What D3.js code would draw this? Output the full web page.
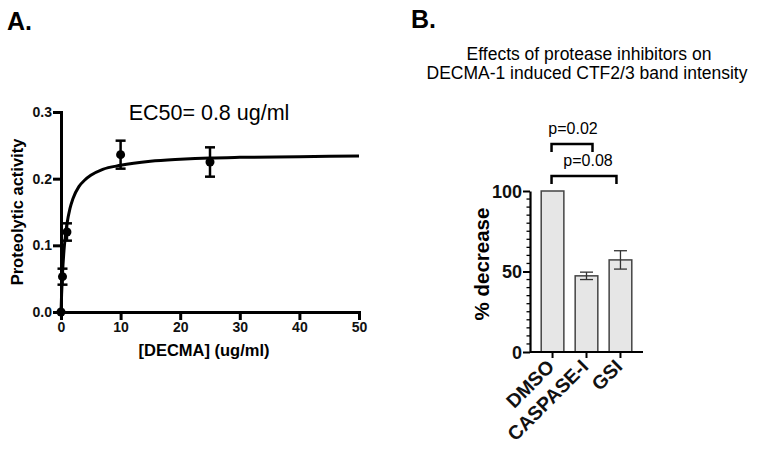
<!DOCTYPE html>
<html><head><meta charset="utf-8">
<script src="https://cdn.jsdelivr.net/npm/d3@7"></script>
<style>body{margin:0;background:#fff}svg{display:block;font-family:"Liberation Sans",Arial,sans-serif}</style>
</head><body>
<svg id="c" width="761" height="449"></svg>
<script>
// Panel A data
const doseX = [0, 0.25, 1, 10, 25];
const activity = [0, 0.053, 0.12, 0.236, 0.225];
const activityErr = [0, 0.012, 0.013, 0.021, 0.022];
const fitX = [0, 0.1, 0.25, 0.5, 0.75, 1, 1.5, 2, 3, 4, 5, 7, 10, 15, 20, 25, 30, 40, 50];
const fitY = [0, 0.026, 0.057, 0.092, 0.115, 0.132, 0.155, 0.170, 0.188, 0.198, 0.205, 0.214, 0.220, 0.226, 0.229, 0.231, 0.232, 0.233, 0.234];
const xTicksA = [0, 10, 20, 30, 40, 50];
const yTicksA = [0, 0.1, 0.2, 0.3];
// Panel B data
const groups = ["DMSO", "CASPASE-I", "GSI"];
const decrease = [100, 47.3, 57.2];
const decreaseErr = [0, 2.3, 5.7];
const yTicksB = [0, 50, 100];
const pLabels = ["p=0.02", "p=0.08"];

const svg = d3.select("#c");
const F = '"Liberation Sans",Arial,sans-serif';

// ---------- Panel A ----------
svg.append("text").attr("x", 7).attr("y", 30).attr("font-size", 25).attr("font-weight", "bold").text("A.");
const xA = d3.scaleLinear().domain([0, 50]).range([61, 359]);
const yA = d3.scaleLinear().domain([0, 0.3]).range([312, 112]);
const gA = svg.append("g");
const axA = gA.append("g").attr("transform", "translate(0,312)")
  .call(d3.axisBottom(xA).tickValues(xTicksA).tickSize(8).tickPadding(2).tickFormat(d3.format("d")));
const ayA = gA.append("g").attr("transform", "translate(61,0)")
  .call(d3.axisLeft(yA).tickValues(yTicksA).tickSize(8).tickPadding(1).tickFormat(d3.format(".1f")));
[axA, ayA].forEach(a => {
  a.attr("font-size", null);
  a.select(".domain").attr("stroke-width", 3).attr("stroke", "#000");
  a.selectAll(".tick line").attr("stroke-width", 3).attr("stroke", "#000");
  a.selectAll("text").attr("font-family", F).style("font-size", "14px").attr("font-weight", "bold").attr("fill", "#111");
});
// fitted curve
gA.append("path").datum(fitX.map((x, i) => [x, fitY[i]]))
  .attr("fill", "none").attr("stroke", "#000").attr("stroke-width", 3)
  .attr("d", d3.line().x(d => xA(d[0])).y(d => yA(d[1])).curve(d3.curveMonotoneX));
// error bars & points
doseX.forEach((x, i) => {
  const e = activityErr[i];
  if (e > 0) {
    const cx = xA(x);
    gA.append("line").attr("x1", cx).attr("x2", cx).attr("y1", yA(activity[i] + e)).attr("y2", yA(activity[i] - e)).attr("stroke", "#000").attr("stroke-width", 2.5);
    [activity[i] + e, activity[i] - e].forEach(v =>
      gA.append("line").attr("x1", cx - 5).attr("x2", cx + 5).attr("y1", yA(v)).attr("y2", yA(v)).attr("stroke", "#000").attr("stroke-width", 2.5));
  }
  gA.append("circle").attr("cx", xA(x)).attr("cy", yA(activity[i])).attr("r", 4.5).attr("fill", "#000");
});
gA.append("text").attr("x", 209).attr("y", 120).attr("text-anchor", "middle").style("font-size", "21.5px").text("EC50= 0.8 ug/ml");
gA.append("text").attr("x", 204).attr("y", 356).attr("text-anchor", "middle").style("font-size", "16.5px").attr("font-weight", "bold").text("[DECMA] (ug/ml)");
gA.append("text").attr("transform", "translate(23,212) rotate(-90)").attr("text-anchor", "middle").style("font-size", "16.5px").attr("font-weight", "bold").text("Proteolytic activity");

// ---------- Panel B ----------
svg.append("text").attr("x", 411).attr("y", 28).attr("font-size", 25).attr("font-weight", "bold").text("B.");
svg.append("text").attr("x", 589).attr("y", 60).attr("text-anchor", "middle").style("font-size", "17.5px").text("Effects of protease inhibitors on");
svg.append("text").attr("x", 587).attr("y", 79).attr("text-anchor", "middle").style("font-size", "17.5px").text("DECMA-1 induced CTF2/3 band intensity");

const xB = d3.scaleBand().domain(groups).range([530, 643]).paddingInner(0.333).paddingOuter(0.33);
const yB = d3.scaleLinear().domain([0, 100]).range([352, 191]);
const gB = svg.append("g");
// minor ticks
const minor = d3.range(0, 101, 5).filter(v => v % 50 !== 0);
gB.selectAll(".mt").data(minor).join("line")
  .attr("x1", 526.5).attr("x2", 530).attr("y1", d => yB(d)).attr("y2", d => yB(d)).attr("stroke", "#000").attr("stroke-width", 1.3);
// bars
gB.selectAll(".bar").data(groups).join("rect")
  .attr("x", d => xB(d)).attr("width", xB.bandwidth())
  .attr("y", (d, i) => yB(decrease[i])).attr("height", (d, i) => yB(0) - yB(decrease[i]))
  .attr("fill", "#e6e6e6").attr("stroke", "#444").attr("stroke-width", 1.5);
// error bars
groups.forEach((g, i) => {
  const e = decreaseErr[i];
  if (e <= 0) return;
  const cx = xB(g) + xB.bandwidth() / 2;
  gB.append("line").attr("x1", cx).attr("x2", cx).attr("y1", yB(decrease[i] + e)).attr("y2", yB(decrease[i] - e)).attr("stroke", "#333").attr("stroke-width", 1.3);
  [decrease[i] + e, decrease[i] - e].forEach(v =>
    gB.append("line").attr("x1", cx - 6.5).attr("x2", cx + 6.5).attr("y1", yB(v)).attr("y2", yB(v)).attr("stroke", "#333").attr("stroke-width", 1.3));
});
const axB = gB.append("g").attr("transform", "translate(0,352)")
  .call(d3.axisBottom(xB).tickSize(6).tickSizeOuter(0).tickPadding(4));
axB.select(".domain").attr("d", "M530,0H643");
const ayB = gB.append("g").attr("transform", "translate(530,0)")
  .call(d3.axisLeft(yB).tickValues(yTicksB).tickSize(7).tickSizeOuter(0).tickPadding(1));
[axB, ayB].forEach(a => {
  a.attr("font-size", null);
  a.select(".domain").attr("stroke-width", 2.2).attr("stroke", "#000");
  a.selectAll(".tick line").attr("stroke-width", 2).attr("stroke", "#000");
  a.selectAll("text").attr("font-family", F).attr("font-weight", "bold").attr("fill", "#111");
});
ayB.selectAll("text").style("font-size", "18px").attr("dy", "0.36em");
axB.selectAll("text").style("font-size", "19.5px")
  .attr("text-anchor", "end").attr("x", 0).attr("y", 0).attr("dy", 0)
  .attr("transform", "translate(3,16) rotate(-45)");
gB.append("text").attr("transform", "translate(489,264) rotate(-90)").attr("text-anchor", "middle").style("font-size", "20.5px").attr("font-weight", "bold").text("% decrease");

// significance brackets
const c0 = xB(groups[0]) + xB.bandwidth() / 2;
const brackets = [
  { x1: c0 - 1, x2: xB(groups[1]) + xB.bandwidth() / 2 + 6, y: 144, label: pLabels[0], ly: 134, lx: 573 },
  { x1: c0 - 1, x2: xB(groups[2]) + xB.bandwidth() / 2 - 4, y: 176, label: pLabels[1], ly: 166, lx: 588 }
];
brackets.forEach(b => {
  gB.append("path").attr("d", `M${b.x1},${b.y + 8}V${b.y}H${b.x2}V${b.y + 8}`)
    .attr("fill", "none").attr("stroke", "#000").attr("stroke-width", 2.5);
  gB.append("text").attr("x", b.lx).attr("y", b.ly).attr("text-anchor", "middle").style("font-size", "16px").text(b.label);
});
</script>
</body></html>
